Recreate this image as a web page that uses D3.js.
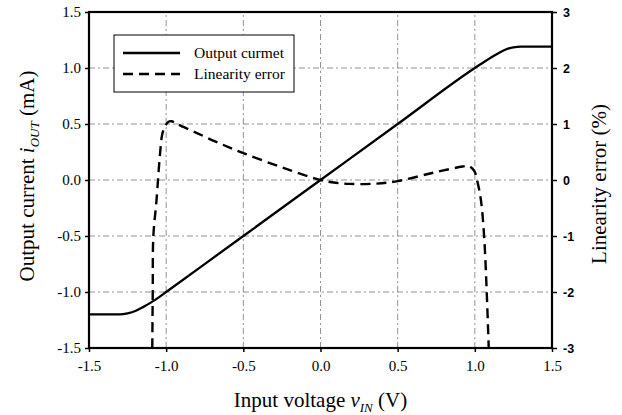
<!DOCTYPE html>
<html>
<head>
<meta charset="utf-8">
<script src="https://cdn.jsdelivr.net/npm/d3@7"></script>
<style>
  body { margin: 0; background: #fff; }
  svg { display: block; }
  .serif { font-family: "Liberation Serif", "Times New Roman", serif; }
</style>
</head>
<body>
<div id="chart"></div>
<script>
// input voltage (V) and output current (mA)
const currentX = [-1.5, -1.3, -1.25, -1.2, -1.15, -1.1, -1.05, -1.0, -0.5, 0.0, 0.5, 1.0, 1.05, 1.1, 1.15, 1.2, 1.25, 1.3, 1.5];
const currentY = [-1.2, -1.2, -1.19, -1.17, -1.135, -1.095, -1.05, -1.0, -0.5, 0.0, 0.5, 1.0, 1.045, 1.09, 1.13, 1.165, 1.185, 1.19, 1.19];

// input voltage (V) and linearity error (%)
const errorX = [-1.09, -1.087, -1.083, -1.063, -1.04, -1.025, -1.005, -0.985, -0.965, -0.93, -0.826, -0.675, -0.5, -0.245, 0.0, 0.1, 0.19, 0.36, 0.5, 0.73, 0.92, 0.96, 0.997, 1.016, 1.04, 1.06, 1.077, 1.09];
const errorY = [-3.0, -2.0, -1.0, -0.375, 0.46, 0.82, 0.97, 1.04, 1.05, 1.0, 0.87, 0.68, 0.48, 0.22, 0.0, -0.05, -0.07, -0.065, -0.02, 0.13, 0.24, 0.25, 0.16, -0.02, -0.37, -1.0, -2.0, -3.0];

const xTicks = [-1.5, -1.0, -0.5, 0.0, 0.5, 1.0, 1.5];
const leftTicks = [-1.5, -1.0, -0.5, 0.0, 0.5, 1.0, 1.5];
const rightTicks = [-3, -2, -1, 0, 1, 2, 3];

const legendNames = ["Output curmet", "Linearity error"];

const width = 622, height = 415;
const margin = {top: 12, right: 70, bottom: 67, left: 89};

const svg = d3.select("#chart").append("svg")
    .attr("width", width)
    .attr("height", height);

const x = d3.scaleLinear().domain([-1.5, 1.5]).range([margin.left, width - margin.right]);
const yL = d3.scaleLinear().domain([-1.5, 1.5]).range([height - margin.bottom, margin.top]);
const yR = d3.scaleLinear().domain([-3, 3]).range([height - margin.bottom, margin.top]);

// grid
const grid = svg.append("g")
    .attr("stroke", "#777")
    .attr("stroke-width", 0.8)
    .attr("stroke-dasharray", "6,3,2,3");
grid.selectAll(".vg").data(xTicks.slice(1, -1)).enter().append("line")
    .attr("x1", d => x(d)).attr("x2", d => x(d))
    .attr("y1", yL(-1.5)).attr("y2", yL(1.5));
grid.selectAll(".hg").data(leftTicks.slice(1, -1)).enter().append("line")
    .attr("y1", d => yL(d)).attr("y2", d => yL(d))
    .attr("x1", x(-1.5)).attr("x2", x(1.5));

// axes (plain hyphen for the minus, like the original)
const xAxis = svg.append("g")
    .attr("transform", `translate(0,${yL(-1.5)})`)
    .call(d3.axisBottom(x).tickValues(xTicks).tickFormat(d => d.toFixed(1)).tickSize(4).tickPadding(8));
xAxis.selectAll("text").attr("class", "serif").style("font-size", "15px");

const leftAxis = svg.append("g")
    .attr("transform", `translate(${x(-1.5)},0)`)
    .call(d3.axisLeft(yL).tickValues(leftTicks).tickFormat(d => d.toFixed(1)).tickSize(4).tickPadding(4));
leftAxis.selectAll("text").attr("class", "serif").style("font-size", "15px");

const rightAxis = svg.append("g")
    .attr("transform", `translate(${x(1.5)},0)`)
    .call(d3.axisRight(yR).tickValues(rightTicks).tickFormat(d => String(d)).tickSize(5).tickPadding(6));
rightAxis.selectAll("text")
    .style("font-family", "'Liberation Sans', Arial, sans-serif")
    .style("font-size", "12.5px")
    .style("font-weight", "bold");

[xAxis, leftAxis, rightAxis].forEach(a => {
    a.select(".domain").remove();
    a.selectAll(".tick line").attr("stroke", "#000").attr("stroke-width", 1.5);
    a.selectAll("text").attr("fill", "#000");
});

// frame
svg.append("rect")
    .attr("x", x(-1.5)).attr("y", yL(1.5))
    .attr("width", x(1.5) - x(-1.5))
    .attr("height", yL(-1.5) - yL(1.5))
    .attr("fill", "none")
    .attr("stroke", "#000")
    .attr("stroke-width", 2.2);

// curves
const currentLine = d3.line()
    .x((d, i) => x(currentX[i]))
    .y(d => yL(d))
    .curve(d3.curveMonotoneX);

svg.append("path")
    .datum(currentY)
    .attr("d", currentLine)
    .attr("fill", "none")
    .attr("stroke", "#000")
    .attr("stroke-width", 2.3);

const errorLine = d3.line()
    .x((d, i) => x(errorX[i]))
    .y(d => yR(d))
    .curve(d3.curveCatmullRom.alpha(0.5));

svg.append("path")
    .datum(errorY)
    .attr("d", errorLine)
    .attr("fill", "none")
    .attr("stroke", "#000")
    .attr("stroke-width", 2.4)
    .attr("stroke-dasharray", "10,6");

// legend
const legend = svg.append("g").attr("transform", "translate(114,35)");
legend.append("rect")
    .attr("width", 180).attr("height", 57)
    .attr("fill", "#fff")
    .attr("stroke", "#000")
    .attr("stroke-width", 1);
legendNames.forEach((name, i) => {
    const ly = 18 + i * 21;
    legend.append("line")
        .attr("x1", 9).attr("x2", 66)
        .attr("y1", ly).attr("y2", ly)
        .attr("stroke", "#000")
        .attr("stroke-width", i ? 2.4 : 2.3)
        .attr("stroke-dasharray", i ? "10,6" : null);
    legend.append("text")
        .attr("class", "serif")
        .attr("x", 80).attr("y", ly + 5)
        .style("font-size", "15.5px")
        .text(name);
});

// axis titles
const xTitle = svg.append("text")
    .attr("class", "serif")
    .attr("x", x(0)).attr("y", 407)
    .attr("text-anchor", "middle")
    .style("font-size", "21px");
xTitle.append("tspan").text("Input voltage ");
xTitle.append("tspan").style("font-style", "italic").text("v");
xTitle.append("tspan").style("font-style", "italic").style("font-size", "13px").attr("dy", 5).text("IN");
xTitle.append("tspan").attr("dy", -5).text(" (V)");

const yTitle = svg.append("text")
    .attr("class", "serif")
    .attr("transform", `translate(34,176) rotate(-90)`)
    .attr("text-anchor", "middle")
    .style("font-size", "21px");
yTitle.append("tspan").text("Output current ");
yTitle.append("tspan").style("font-style", "italic").text("i");
yTitle.append("tspan").style("font-style", "italic").style("font-size", "13px").attr("dy", 5).text("OUT");
yTitle.append("tspan").attr("dy", -5).text(" (mA)");

svg.append("text")
    .attr("class", "serif")
    .attr("transform", `translate(606,184) rotate(-90)`)
    .attr("text-anchor", "middle")
    .style("font-size", "21px")
    .text("Linearity error (%)");
</script>
</body>
</html>
